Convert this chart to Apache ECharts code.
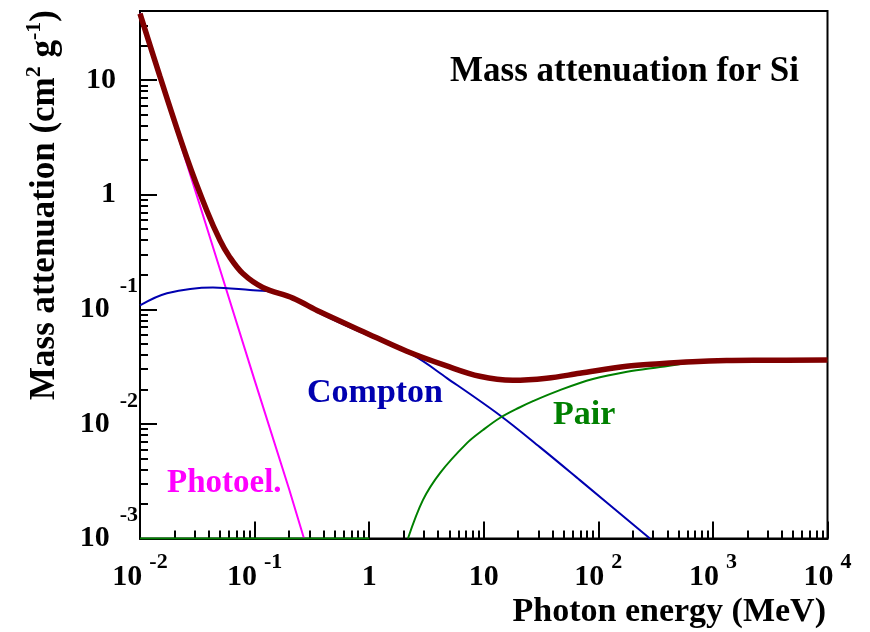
<!DOCTYPE html>
<html lang="en">
<head>
<meta charset="UTF-8">
<title>Mass attenuation for Si</title>
<script src="https://cdn.jsdelivr.net/npm/echarts@6/dist/echarts.min.js"></script>
<style>html,body{margin:0;padding:0;background:#fff;}</style>
</head>
<body>
<div id="main" style="width:870px;height:632px;"></div>
<script>
// photon energy (MeV) and mass attenuation (cm2/g)
var totalE   = [0.01, 0.0149, 0.0257, 0.0384, 0.0499, 0.060, 0.079, 0.118, 0.216, 0.371, 0.881, 2.13, 4.75, 9.22, 17.9, 35.4, 68.7, 177, 343, 665, 1315, 2550, 10000];
var totalMu  = [38, 10.8, 2.08, 0.72, 0.40, 0.29, 0.205, 0.155, 0.125, 0.095, 0.064, 0.043, 0.032, 0.026, 0.0240, 0.0250, 0.0276, 0.0318, 0.0335, 0.0349, 0.0357, 0.0359, 0.0360];

var photoE   = [0.01, 0.02, 0.05, 0.1, 0.2, 0.27];
var photoMu  = [38, 4.1, 0.221, 0.0241, 0.0027, 0.001];

var comptonE  = [0.01, 0.0172, 0.0433, 0.0912, 0.145, 0.249, 0.372, 0.883, 2.41, 4.77, 13.8, 30.9, 69, 282];
var comptonMu = [0.108, 0.138, 0.155, 0.147, 0.141, 0.115, 0.0923, 0.0618, 0.0397, 0.0251, 0.0119, 0.00627, 0.00323, 0.001];

// below threshold the pair curve sits on the axis floor, then a gap
var pairE  = [0.01, 1, 1.02, 2.18, 2.95, 4.15, 7.13, 9.85, 13.8, 20.5, 26.9, 46.2, 89.7, 178, 345, 665, 1315, 2550, 10000];
var pairMu = [0.001, 0.001, null, 0.001, 0.00217, 0.00372, 0.00679, 0.00884, 0.01125, 0.0139, 0.0158, 0.0197, 0.0246, 0.0285, 0.0313, 0.0343, 0.0354, 0.0357, 0.0358];

var xMajor = [0.01, 0.1, 1, 10, 100, 1000, 10000];
var yMajor = [0.001, 0.01, 0.1, 1, 10];
var minorSteps = [2, 3, 4, 5, 6, 7, 8, 9];

function zip(a, b) {
    var out = [];
    for (var i = 0; i < a.length; i++) out.push([a[i], b[i]]);
    return out;
}
function minors(majors, max) {
    var out = [];
    majors.forEach(function (m) {
        minorSteps.forEach(function (s) {
            var v = m * s;
            if (v < max) out.push(v);
        });
    });
    return out;
}

var serif = "'Liberation Serif', 'DejaVu Serif', serif";
var xMin = 0.01, xMax = 10000, yMin = 0.001, yMax = 40;

function powLabel(v, plain) {
    var e = Math.round(Math.log(v) / Math.LN10);
    if (e === 0) return '{' + plain + '|1}';
    if (e === 1) return '{' + plain + '|10}';
    return '{b|10}{e|' + e + '}';
}

var myChart = echarts.init(document.getElementById('main'));

var axisCommon = {
    type: 'log',
    logBase: 10,
    splitLine: { show: false },
    minorTick: { show: false },
    minorSplitLine: { show: false }
};

var option = {
    backgroundColor: '#fff',
    animation: false,
    grid: {
        left: 140, top: 11, width: 687.5, height: 527.5,
        show: true, borderColor: '#000', borderWidth: 2,
        containLabel: false, outerBoundsMode: 'none'
    },
    xAxis: [
        echarts.util.merge({
            min: xMin, max: xMax, position: 'bottom',
            axisLine: { lineStyle: { color: '#000', width: 2 } },
            axisTick: { inside: true, length: 17, lineStyle: { color: '#000', width: 2 }, customValues: xMajor },
            axisLabel: {
                customValues: xMajor, showMinLabel: true, showMaxLabel: true,
                margin: 13, color: '#000',
                formatter: function (v) { return powLabel(v, 'b'); },
                rich: {
                    b: { fontFamily: serif, fontWeight: 'bold', fontSize: 30, lineHeight: 52, color: '#000' },
                    e: { fontFamily: serif, fontWeight: 'bold', fontSize: 22, lineHeight: 22, verticalAlign: 'top', padding: [0, 0, 0, 7], color: '#000' }
                }
            }
        }, axisCommon, true),
        echarts.util.merge({
            min: xMin, max: xMax, position: 'bottom',
            axisLine: { show: false },
            axisTick: { inside: true, length: 8, lineStyle: { color: '#000', width: 2 }, customValues: minors(xMajor, xMax) },
            axisLabel: { show: false }
        }, axisCommon, true)
    ],
    yAxis: [
        echarts.util.merge({
            min: yMin, max: yMax, position: 'left',
            axisLine: { lineStyle: { color: '#000', width: 2 } },
            axisTick: { inside: true, length: 17, lineStyle: { color: '#000', width: 2 }, customValues: yMajor },
            axisLabel: {
                customValues: yMajor, showMinLabel: true, showMaxLabel: true,
                margin: 2, color: '#000',
                formatter: function (v) { return powLabel(v, 'p'); },
                rich: {
                    b: { fontFamily: serif, fontWeight: 'bold', fontSize: 30, lineHeight: 68, color: '#000' },
                    p: { fontFamily: serif, fontWeight: 'bold', fontSize: 30, lineHeight: 68, padding: [0, 22, 0, 0], color: '#000' },
                    e: { fontFamily: serif, fontWeight: 'bold', fontSize: 22, lineHeight: 22, verticalAlign: 'top', padding: [0, 0, 0, 10], color: '#000' }
                }
            },
            name: 'Mass attenuation (cm{s|2} g{s|-1})',
            nameLocation: 'end', nameRotate: 90, nameGap: 1, nameMoveOverlap: false,
            nameTextStyle: {
                fontFamily: serif, fontWeight: 'bold', fontSize: 35, color: '#000',
                align: 'right', verticalAlign: 'middle', lineHeight: 44, padding: [0, 0, 190, 0],
                rich: {
                    s: { fontFamily: serif, fontWeight: 'bold', fontSize: 22, lineHeight: 22, verticalAlign: 'top', color: '#000' }
                }
            }
        }, axisCommon, true),
        echarts.util.merge({
            min: yMin, max: yMax, position: 'left',
            axisLine: { show: false },
            axisTick: { inside: true, length: 8, lineStyle: { color: '#000', width: 2 }, customValues: minors(yMajor, yMax) },
            axisLabel: { show: false }
        }, axisCommon, true)
    ],
    series: [
        {
            name: 'Photoel.', type: 'line', showSymbol: false, symbol: 'none',
            data: zip(photoE, photoMu),
            lineStyle: { color: '#ff00ff', width: 2 }, z: 3
        },
        {
            name: 'Compton', type: 'line', showSymbol: false, symbol: 'none', smooth: 0.35,
            data: zip(comptonE, comptonMu),
            lineStyle: { color: '#0000b0', width: 2 }, z: 3
        },
        {
            name: 'Pair', type: 'line', showSymbol: false, symbol: 'none', smooth: 0.35,
            connectNulls: false,
            data: zip(pairE, pairMu),
            lineStyle: { color: '#008000', width: 2 }, z: 3
        },
        {
            name: 'Total', type: 'line', showSymbol: false, symbol: 'none', smooth: 0.35,
            data: zip(totalE, totalMu),
            lineStyle: { color: '#800000', width: 5.5 }, z: 4
        }
    ],
    graphic: [
        { type: 'text', x: 450, y: 72, style: { text: 'Mass attenuation for Si', font: 'bold 35px ' + serif, fill: '#000', align: 'left', verticalAlign: 'middle' } },
        { type: 'text', x: 826, y: 612, style: { text: 'Photon energy (MeV)', font: 'bold 34px ' + serif, fill: '#000', align: 'right', verticalAlign: 'middle' } },
        { type: 'text', x: 167, y: 483, style: { text: 'Photoel.', font: 'bold 33px ' + serif, fill: '#ff00ff', align: 'left', verticalAlign: 'middle' } },
        { type: 'text', x: 307, y: 393, style: { text: 'Compton', font: 'bold 34px ' + serif, fill: '#0000b0', align: 'left', verticalAlign: 'middle' } },
        { type: 'text', x: 553, y: 415, style: { text: 'Pair', font: 'bold 34px ' + serif, fill: '#008000', align: 'left', verticalAlign: 'middle' } }
    ]
};

myChart.setOption(option);
</script>
</body>
</html>
